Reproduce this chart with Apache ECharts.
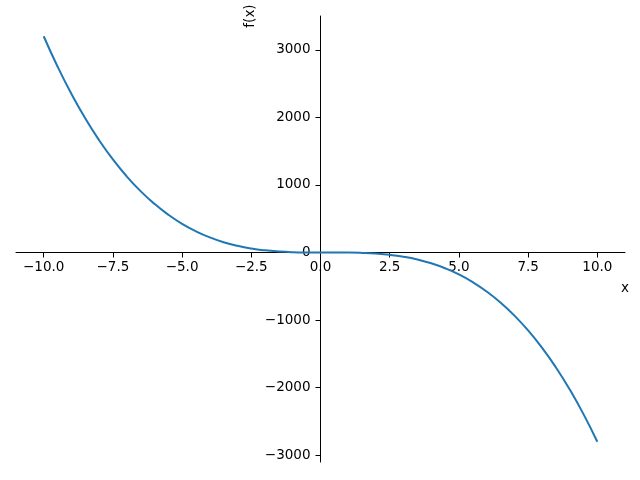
<!DOCTYPE html>
<html>
<head>
<meta charset="utf-8">
<script src="https://cdn.jsdelivr.net/npm/echarts@6/dist/echarts.min.js"></script>
<style>
  html, body { margin: 0; padding: 0; background: #ffffff; }
  #chart { width: 640px; height: 480px; }
</style>
</head>
<body>
<div id="chart"></div>
<script>
const xs = [-10, -9.5, -9, -8.5, -8, -7.5, -7, -6.5, -6, -5.5, -5, -4.5, -4, -3.5, -3, -2.5, -2, -1.5, -1, -0.5,
  0, 0.5, 1, 1.5, 2, 2.5, 3, 3.5, 4, 4.5, 5, 5.5, 6, 6.5, 7, 7.5, 8, 8.5, 9, 9.5, 10]
const ys = [3200, 2753, 2349, 1987, 1664, 1378, 1127, 908, 720, 560, 425, 314, 224, 153, 99, 59, 32, 15, 5, 1,
  0, 0, -1, -6, -16, -34, -63, -104, -160, -233, -325, -439, -576, -739, -931, -1153, -1408, -1698, -2025, -2392, -2800]
const xTicks = [-10, -7.5, -5, -2.5, 0, 2.5, 5, 7.5, 10]
const yTicks = [-3000, -2000, -1000, 0, 1000, 2000, 3000]

const xMin = -11, xMax = 11
const yMin = -3100, yMax = 3500

const W = 640, H = 480
const grid = { left: 16, right: 15, top: 16, bottom: 18 }
const plotW = W - grid.left - grid.right
const plotH = H - grid.top - grid.bottom
// spines sit on the zero lines, so shift the axes in from the grid edges
const yAxisShift = -plotW * (0 - xMin) / (xMax - xMin)
const xAxisShift = -plotH * (0 - yMin) / (yMax - yMin)

const font = 'DejaVu Sans'
const minus = (s) => s.replace('-', '\u2212')

const chart = echarts.init(document.getElementById('chart'))
chart.setOption({
  backgroundColor: '#ffffff',
  animation: false,
  grid: { ...grid, containLabel: false, outerBoundsMode: 'none' },
  xAxis: {
    type: 'value',
    min: xMin,
    max: xMax,
    offset: xAxisShift,
    axisLine: { onZero: false, lineStyle: { color: '#000000', width: 1 } },
    axisTick: { show: true, length: 5, customValues: xTicks, lineStyle: { color: '#000000' } },
    axisLabel: {
      customValues: xTicks,
      margin: 8,
      hideOverlap: false,
      color: '#000000',
      fontFamily: font,
      fontSize: 13.5,
      formatter: (v) => minus(v.toFixed(1)),
    },
    splitLine: { show: false },
  },
  yAxis: {
    type: 'value',
    min: yMin,
    max: yMax,
    offset: yAxisShift,
    axisLine: { show: true, onZero: false, lineStyle: { color: '#000000', width: 1 } },
    axisTick: { show: true, length: 5, customValues: yTicks, lineStyle: { color: '#000000' } },
    axisLabel: {
      customValues: yTicks,
      margin: 10,
      hideOverlap: false,
      color: '#000000',
      fontFamily: font,
      fontSize: 13.5,
      formatter: (v) => minus(String(v)),
    },
    splitLine: { show: false },
  },
  graphic: [
    {
      type: 'text',
      x: 625,
      y: 288,
      style: { text: 'x', fill: '#000000', font: '13.5px "DejaVu Sans"', align: 'center', verticalAlign: 'middle' },
    },
    {
      type: 'text',
      x: 250,
      y: 16,
      rotation: Math.PI / 2,
      style: { text: 'f(x)', fill: '#000000', font: '13.5px "DejaVu Sans"', align: 'center', verticalAlign: 'middle' },
    },
  ],
  series: [
    {
      type: 'line',
      showSymbol: false,
      smooth: true,
      clip: false,
      lineStyle: { color: '#1f77b4', width: 2 },
      data: xs.map((x, i) => [x, ys[i]]),
    },
  ],
})
</script>
</body>
</html>
